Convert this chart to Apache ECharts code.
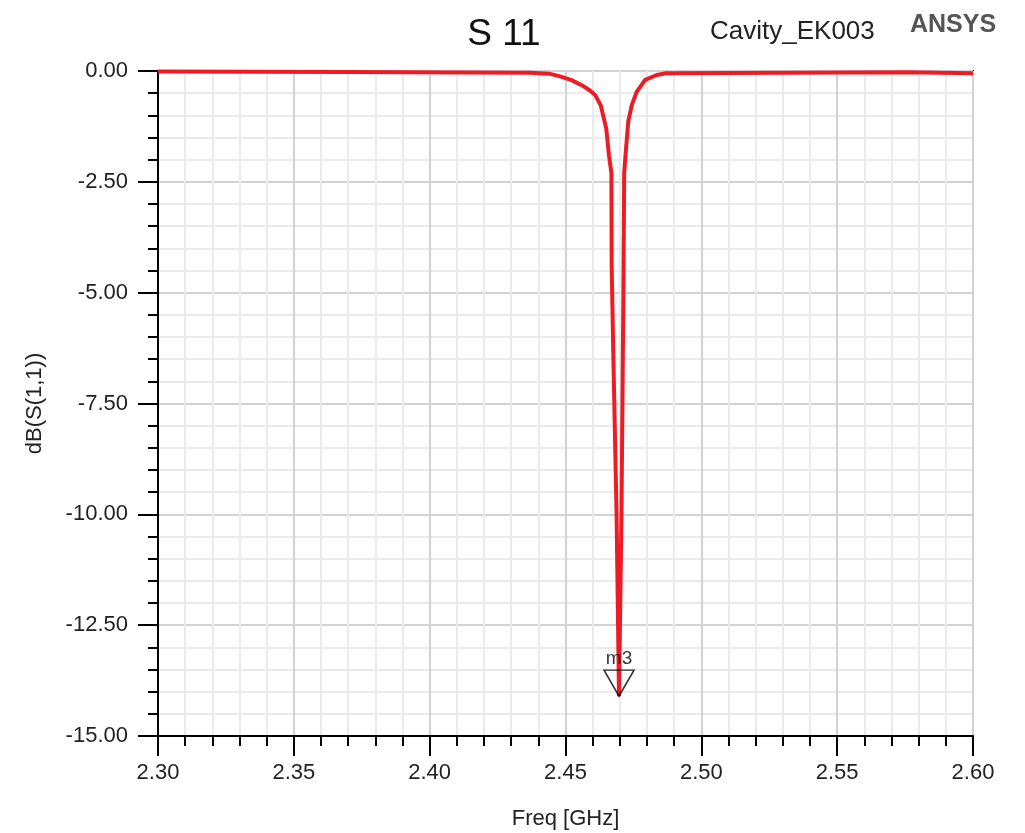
<!DOCTYPE html>
<html>
<head>
<meta charset="utf-8">
<script src="https://cdn.jsdelivr.net/npm/echarts@6/dist/echarts.min.js"></script>
<style>
  html, body { margin: 0; padding: 0; background: #fff; }
  #chart { width: 1025px; height: 833px; }
</style>
</head>
<body>
<div id="chart"></div>
<script>
// sweep points: frequency in GHz, return loss in dB
var freq = [2.300, 2.370, 2.437, 2.444, 2.448, 2.452, 2.456, 2.459, 2.461, 2.463, 2.465, 2.466,
  2.4669, 2.4670, 2.4676, 2.4688, 2.4697, 2.4706, 2.4713, 2.4716, 2.4723, 2.4731, 2.4744,
  2.4762, 2.4793, 2.4836, 2.487, 2.576, 2.600];
var s11 = [-0.01, -0.02, -0.04, -0.06, -0.12, -0.20, -0.32, -0.44, -0.55, -0.78, -1.30, -1.90,
  -2.30, -4.40, -6.40, -10.00, -14.10, -10.00, -5.10, -2.30, -1.74, -1.14, -0.77,
  -0.47, -0.20, -0.09, -0.05, -0.03, -0.05];
var markerName = 'm3';
var markerPoint = [2.4697, -14.10];

var curve = freq.map(function (f, i) {
  return [f, s11[i]];
});

var myChart = echarts.init(document.getElementById('chart'));
var option = {
  animation: false,
  title: [{
    text: 'S 11',
    left: 499,
    top: 11,
    textAlign: 'center',
    textStyle: { fontFamily: 'Liberation Sans', fontSize: 37, fontWeight: 'normal', color: '#111' }
  }, {
    text: 'Cavity_EK003',
    left: 705,
    top: 14,
    textStyle: { fontFamily: 'Liberation Sans', fontSize: 26, fontWeight: 'normal', color: '#222' }
  }, {
    text: 'ANSYS',
    left: 905,
    top: 8,
    textStyle: { fontFamily: 'Liberation Sans', fontSize: 25, fontWeight: 'bold', color: '#555' }
  }],
  grid: {
    left: 158,
    right: 52,
    top: 71,
    bottom: 97,
    outerBoundsMode: 'none',
    show: true,
    borderColor: '#000',
    borderWidth: 2
  },
  xAxis: {
    type: 'value',
    min: 2.30,
    max: 2.60,
    interval: 0.05,
    name: 'Freq [GHz]',
    nameLocation: 'middle',
    nameGap: 72,
    nameTextStyle: { fontFamily: 'Liberation Sans', fontSize: 22, color: '#222' },
    axisLine: { show: true, onZero: false, lineStyle: { color: '#000', width: 2 } },
    axisTick: { show: true, inside: false, length: 20, lineStyle: { color: '#000', width: 2 } },
    minorTick: { show: true, splitNumber: 5, length: 10, lineStyle: { color: '#000', width: 2 } },
    axisLabel: {
      margin: 26,
      fontFamily: 'Liberation Sans',
      fontSize: 22,
      color: '#222',
      formatter: function (v) { return v.toFixed(2); }
    },
    splitLine: { show: true, lineStyle: { color: '#d2d2d2', width: 2 } },
    minorSplitLine: { show: true, lineStyle: { color: '#ebebeb', width: 2 } }
  },
  yAxis: {
    type: 'value',
    min: -15,
    max: 0,
    interval: 2.5,
    name: 'dB(S(1,1))',
    nameLocation: 'middle',
    nameGap: 112,
    nameTextStyle: { fontFamily: 'Liberation Sans', fontSize: 22, color: '#222' },
    axisLine: { show: true, onZero: false, lineStyle: { color: '#000', width: 2 } },
    axisTick: { show: true, inside: false, length: 20, lineStyle: { color: '#000', width: 2 } },
    minorTick: { show: true, splitNumber: 5, length: 10, lineStyle: { color: '#000', width: 2 } },
    axisLabel: {
      margin: 30,
      fontFamily: 'Liberation Sans',
      fontSize: 22,
      color: '#222',
      formatter: function (v) { return v.toFixed(2); }
    },
    splitLine: { show: true, lineStyle: { color: '#d2d2d2', width: 2 } },
    minorSplitLine: { show: true, lineStyle: { color: '#ebebeb', width: 2 } }
  },
  series: [{
    type: 'line',
    z: 2,
    data: curve,
    showSymbol: false,
    lineStyle: { color: '#ed1c24', width: 4 }
  }, {
    type: 'scatter',
    z: 4,
    data: [markerPoint],
    symbol: 'path://M0,0 L30,0 L15,26 Z',
    symbolSize: [30, 26],
    symbolOffset: [0, -13],
    itemStyle: { color: 'rgba(255,255,255,0)', borderColor: '#000', borderWidth: 1.5 },
    label: {
      show: true,
      position: 'top',
      distance: 1,
      formatter: markerName,
      fontFamily: 'Liberation Sans',
      fontSize: 19,
      color: '#000'
    }
  }]
};
myChart.setOption(option);
</script>
</body>
</html>
